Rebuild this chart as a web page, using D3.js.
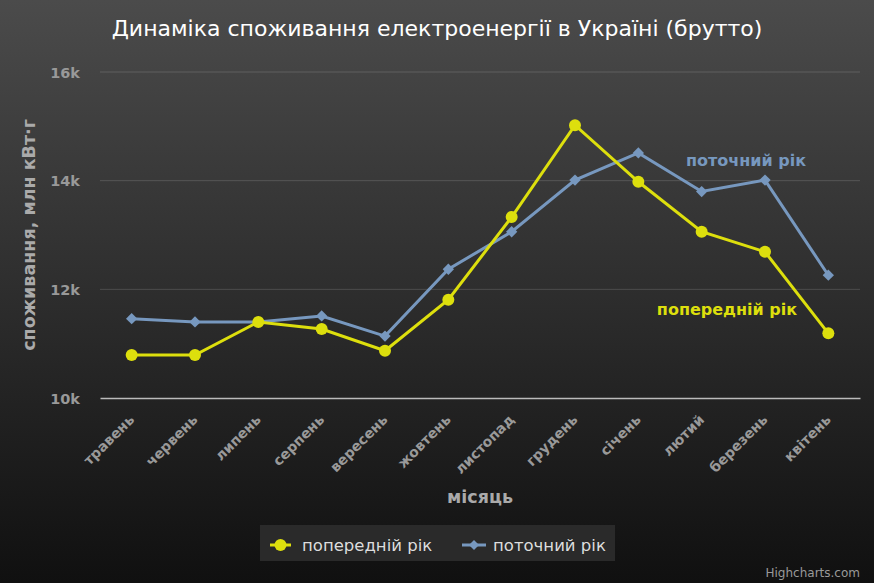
<!DOCTYPE html>
<html><head><meta charset="utf-8">
<script src="https://cdn.jsdelivr.net/npm/d3@7/dist/d3.min.js"></script>
<style>html,body{margin:0;padding:0;background:#111;}svg{display:block;}</style>
</head><body>
<script>
const categories = ["травень","червень","липень","серпень","вересень","жовтень","листопад","грудень","січень","лютий","березень","квітень"];
const previousYear = [10790, 10790, 11400, 11270, 10870, 11810, 13330, 15020, 13980, 13060, 12690, 11190];
const currentYear = [11460, 11400, 11400, 11510, 11140, 12370, 13060, 14010, 14510, 13800, 14010, 12260];
const yTicks = [10000, 12000, 14000, 16000];
const seriesNames = ["попередній рік", "поточний рік"];

const W = 874, H = 583;
const m = {left: 100, right: 14, top: 72, bottom: 185};
const font = "'DejaVu Sans', sans-serif";

const svg = d3.select("body").append("svg").attr("width", W).attr("height", H);
const defs = svg.append("defs");
const grad = defs.append("linearGradient").attr("id","bg").attr("x1",0).attr("y1",0).attr("x2",0).attr("y2",1);
grad.append("stop").attr("offset","0%").attr("stop-color","#4b4b4b");
grad.append("stop").attr("offset","100%").attr("stop-color","#101010");
svg.append("rect").attr("width",W).attr("height",H).attr("fill","url(#bg)");

const x = d3.scaleBand().domain(categories).range([m.left, W - m.right]);
const y = d3.scaleLinear().domain([10000, 16000]).range([H - m.bottom, m.top]);
const cx = d => x(d) + x.bandwidth()/2;

// title
svg.append("text").attr("x", 437).attr("y", 36).attr("text-anchor","middle")
  .attr("fill","#fff").attr("font-family",font).attr("font-size",22)
  .text("Динаміка споживання електроенергії в Україні (брутто)");

// gridlines
svg.append("g").selectAll("line").data(yTicks.filter(t => t !== 10000)).join("line")
  .attr("x1", m.left).attr("x2", W - m.right)
  .attr("y1", d => y(d)).attr("y2", d => y(d))
  .attr("stroke","rgba(255,255,255,0.15)").attr("stroke-width",1);

// y axis
const yAxis = d3.axisLeft(y).tickValues(yTicks).tickSize(0).tickPadding(20).tickFormat(d => (d/1000) + "k");
const gy = svg.append("g").attr("transform", `translate(${m.left},0)`).call(yAxis);
gy.select(".domain").remove();
gy.selectAll("text").attr("fill","#999").attr("font-family",font).attr("font-size",14.5).attr("font-weight","bold").attr("dy","0.35em");

// x axis
const xAxis = d3.axisBottom(x).tickSize(0).tickPadding(10);
const gx = svg.append("g").attr("transform", `translate(0,${H - m.bottom})`).call(xAxis);
gx.select(".domain").attr("stroke","#bbb").attr("stroke-width",1.5);
gx.selectAll("text").attr("fill","#999").attr("font-family",font).attr("font-size",14).attr("font-weight","bold")
  .attr("text-anchor","end").attr("dy","0.35em")
  .attr("transform","translate(-7,12) rotate(-45)");

// axis titles
svg.append("text").attr("transform","translate(35,235) rotate(-90)").attr("text-anchor","middle")
  .attr("fill","#aaa").attr("font-family",font).attr("font-size",17.5).attr("font-weight","bold")
  .text("споживання, млн кВт·г");
svg.append("text").attr("x", 480).attr("y", 503).attr("text-anchor","middle")
  .attr("fill","#aaa").attr("font-family",font).attr("font-size",17.5).attr("font-weight","bold")
  .text("місяць");

const line = d3.line().x((d,i) => cx(categories[i])).y(d => y(d));
const yellow = "#DDDF0D", blue = "#7798BF";

// current year (blue)
svg.append("path").datum(currentYear).attr("d", line).attr("fill","none").attr("stroke",blue).attr("stroke-width",3);
// previous year (yellow)
svg.append("path").datum(previousYear).attr("d", line).attr("fill","none").attr("stroke",yellow).attr("stroke-width",3);

svg.append("g").selectAll("path").data(currentYear).join("path")
  .attr("d", d3.symbol().type(d3.symbolSquare).size(64))
  .attr("transform",(d,i) => `translate(${cx(categories[i])},${y(d)}) rotate(45)`)
  .attr("fill",blue);
svg.append("g").selectAll("circle").data(previousYear).join("circle")
  .attr("cx",(d,i) => cx(categories[i])).attr("cy", d => y(d)).attr("r",6)
  .attr("fill",yellow);

// annotations
svg.append("text").attr("x",746).attr("y",166).attr("text-anchor","middle")
  .attr("fill",blue).attr("font-family",font).attr("font-size",16).attr("font-weight","bold").text(seriesNames[1]);
svg.append("text").attr("x",727).attr("y",315).attr("text-anchor","middle")
  .attr("fill",yellow).attr("font-family",font).attr("font-size",16).attr("font-weight","bold").text(seriesNames[0]);

// legend
const lg = svg.append("g");
lg.append("rect").attr("x",260).attr("y",525).attr("width",355).attr("height",36).attr("fill","#2a2a2a");
lg.append("line").attr("x1",270).attr("x2",291).attr("y1",545).attr("y2",545).attr("stroke",yellow).attr("stroke-width",3);
lg.append("circle").attr("cx",280.5).attr("cy",545).attr("r",6).attr("fill",yellow);
lg.append("text").attr("x",302).attr("y",551).attr("fill","#ddd").attr("font-family",font).attr("font-size",16.5).text(seriesNames[0]);
lg.append("line").attr("x1",462).attr("x2",486).attr("y1",545).attr("y2",545).attr("stroke",blue).attr("stroke-width",3);
lg.append("path").attr("d", d3.symbol().type(d3.symbolSquare).size(50)).attr("transform","translate(474,545) rotate(45)").attr("fill",blue);
lg.append("text").attr("x",493).attr("y",551).attr("fill","#ddd").attr("font-family",font).attr("font-size",16.5).text(seriesNames[1]);

// credit
svg.append("text").attr("x",860).attr("y",577).attr("text-anchor","end")
  .attr("fill","#999").attr("font-family",font).attr("font-size",12).text("Highcharts.com");
</script>
</body></html>
